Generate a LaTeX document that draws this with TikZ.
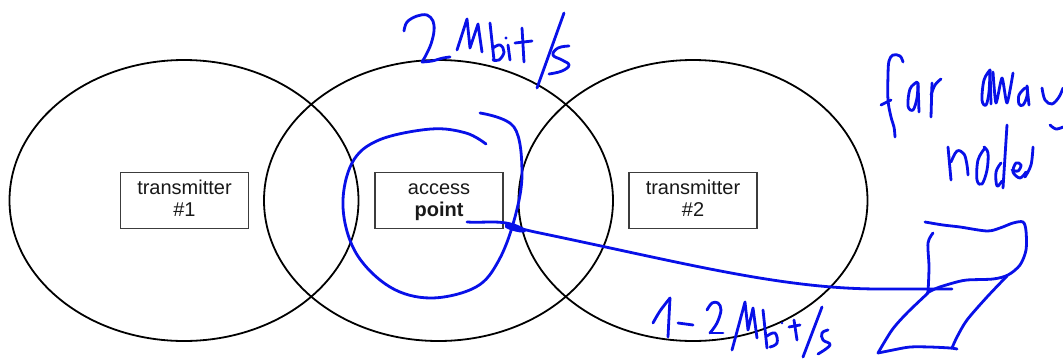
\documentclass[tikz,border=0pt]{standalone}
\usepackage{fontspec}
\setmainfont{Liberation Sans}
\usetikzlibrary{shapes.geometric}
\definecolor{ink}{RGB}{8,16,232}
\definecolor{boxline}{RGB}{60,60,60}
\tikzset{
  coverage/.style={ellipse, draw=black, line width=1.8pt,
    minimum width=349pt, minimum height=281pt, inner sep=0pt, outer sep=0pt},
  station/.style={rectangle, draw=boxline, line width=1.1pt,
    minimum width=128pt, minimum height=56pt, inner sep=0pt, align=center,
    font=\fontsize{20}{22}\selectfont, text=black!90},
  pen/.style={draw=ink, line width=2.8pt, line cap=round, line join=round},
}
\begin{document}
\begin{tikzpicture}[x=1pt,y=-1pt]
\useasboundingbox (0,0) rectangle (1063,359);
\fill[white] (0,0) rectangle (1063,359);

% coverage areas
\node[coverage] (cov1) at (184,200.5) {};
\node[coverage] (cov2) at (438.5,200.5) {};
\node[coverage] (cov3) at (693,200.5) {};

% stations
\node[station] (tx1) at (184.5,200.3) {\vphantom{Tp}transmitter\\\vphantom{Tp}\#1};
\node[station] (ap)  at (439,200.3)   {\vphantom{Tp}access\\\vphantom{Tp}\textbf{point}};
\node[station] (tx2) at (693,200.3)   {\vphantom{Tp}transmitter\\\vphantom{Tp}\#2};

% ---- pen annotations ----
% loop round the access point
\draw[pen] plot[smooth, tension=0.6] coordinates {(480,113) (514,127) (522,173) (515,217) (499,260)
  (476,287) (431,298) (390,287) (356,253) (343,207) (352,163) (379,140) (431,129) (466,133) (486,144)};

% "2 Mbit/s"
\draw[pen] plot[smooth, tension=0.6] coordinates {(404,31) (407,22) (417,16) (427,15) (433,21) (434,31) (431,44) (426,55) (422,62)};
\draw[pen] plot[smooth, tension=0.6] coordinates {(422,62) (432,61) (443,58) (450,57)};
\draw[pen] (457,50) -- (467,19) -- (470,48) -- (478,24) -- (482,52);
\draw[pen] (490,23) -- (494,60);
\draw[pen] plot[smooth, tension=0.7] coordinates {(493,48) (500,45) (504,52) (499,60) (493,60)};
\draw[pen] (508,45) -- (510,60);
\fill[ink] (506,38) circle (1.6);
\draw[pen] (522,28) -- (524,62);
\draw[pen] (515,43) -- (532,41);
\draw[pen] (564,13) -- (537,88);
\draw[pen] plot[smooth, tension=0.7] coordinates {(569,46) (558,48) (553,55) (562,60) (569,65) (562,71) (549,74)};

% link from the access point to the far node
\coordinate (apout) at (467,222);
\coordinate (farin) at (952,289);
\draw[pen] (apout) .. controls (485,223) and (500,220) .. (514,225)
  .. controls (522,228) and (530,232) .. (520,231)
  .. controls (508,229) and (500,224) .. (512,226)
  .. controls (518,228) and (526,230) .. (535,232)
  .. controls (680,262) and (780,289) .. (880,289) -- (farin);

% far away node
\draw[pen] plot[smooth, tension=0.5] coordinates {(925,222) (943,225) (960,227) (987,231) (1000,228) (1013,223)
  (1023,222) (1026,231) (1026,250) (1020,265) (1008,275) (993,279) (967,280) (953,283) (937,288) (927,293)};
\draw[pen] plot[smooth, tension=0.5] coordinates {(933,233) (928,243) (929,267) (928,293)};
\draw[pen] plot[smooth, tension=0.5] coordinates {(928,293) (907,313) (892,330) (878,353)};
\draw[pen] plot[smooth, tension=0.5] coordinates {(878,353) (893,350) (910,347) (930,347) (950,348) (957,349)};
\draw[pen] plot[smooth, tension=0.5] coordinates {(1007,276) (987,297) (967,320) (957,337) (952,348)};

% "far away"
\draw[pen] plot[smooth, tension=0.6] coordinates {(903,62) (900,56) (893,55) (889,61) (888,75) (888,100) (891,117) (894,127) (895,137)};
\draw[pen] (881,105) -- (891,100);
\draw[pen] plot[smooth, tension=0.6] coordinates {(917,82) (910,89) (908,106) (913,110) (917,98) (918,83)};
\draw[pen] (918,83) -- (919,112);
\draw[pen] (932,83) -- (931,117);
\draw[pen] plot[smooth, tension=0.6] coordinates {(931,95) (935,85) (941,79)};
\draw[pen] plot[smooth, tension=0.6] coordinates {(990,70) (984,80) (982,100) (986,105) (989,92) (990,70)};
\draw[pen] (990,70) -- (991,104);
\draw[pen] plot[smooth, tension=0.4] coordinates {(993,72) (996,103) (1002,78) (1007,103) (1013,73)};
\draw[pen] plot[smooth, tension=0.6] coordinates {(1025,88) (1019,95) (1019,104) (1023,105) (1027,96) (1027,86)};
\draw[pen] (1027,86) -- (1029,105);
\draw[pen] plot[smooth, tension=0.6] coordinates {(1042,88) (1045,100) (1052,104) (1059,97) (1063,88)};
\draw[pen] plot[smooth, tension=0.6] coordinates {(1050,125) (1056,129) (1063,127)};

% "node"
\draw[pen] (948,147) -- (951,180);
\draw[pen] plot[smooth, tension=0.6] coordinates {(951,162) (957,151) (964,154) (967,165) (968,175)};
\draw[pen] plot[smooth, tension=0.6] coordinates {(985,148) (978,160) (977,180) (982,184) (987,170) (988,153) (984,147)};
\draw[pen] plot[smooth, tension=0.6] coordinates {(1001,163) (996,172) (997,186) (1002,181)};
\draw[pen] (1007,125) -- (1003,188);
\draw[pen] plot[smooth, tension=0.6] coordinates {(1012,170) (1018,171) (1021,165) (1016,163) (1013,172) (1020,178) (1026,172)};
\draw[pen] plot[smooth, tension=0.6] coordinates {(1033,147) (1031,165) (1025,177)};

% "1-2 Mbit/s"
\draw[pen] plot[smooth, tension=0.6] coordinates {(653,323) (660,311) (670,298)};
\draw[pen] (670,298) -- (669,317) -- (668,337);
\draw[pen] (678,323) -- (693,325);
\draw[pen] plot[smooth, tension=0.6] coordinates {(707,310) (712,303) (718,303) (721,310) (717,323) (710,333)};
\draw[pen] (710,333) -- (723,333);
\draw[pen] (732,350) -- (745,302) -- (748,330) -- (753,308) -- (757,338);
\draw[pen] (763,310) -- (767,348);
\draw[pen] plot[smooth, tension=0.7] coordinates {(767,336) (775,333) (777,343) (770,347)};
\fill[ink] (782,323) circle (1.3);
\draw[pen] (794,320) -- (797,340);
\draw[pen] (789,327) -- (800,325);
\draw[pen] (822,307) -- (803,357);
\draw[pen] plot[smooth, tension=0.7] coordinates {(828,330) (822,333) (823,340) (830,345) (818,354)};
\end{tikzpicture}
\end{document}
